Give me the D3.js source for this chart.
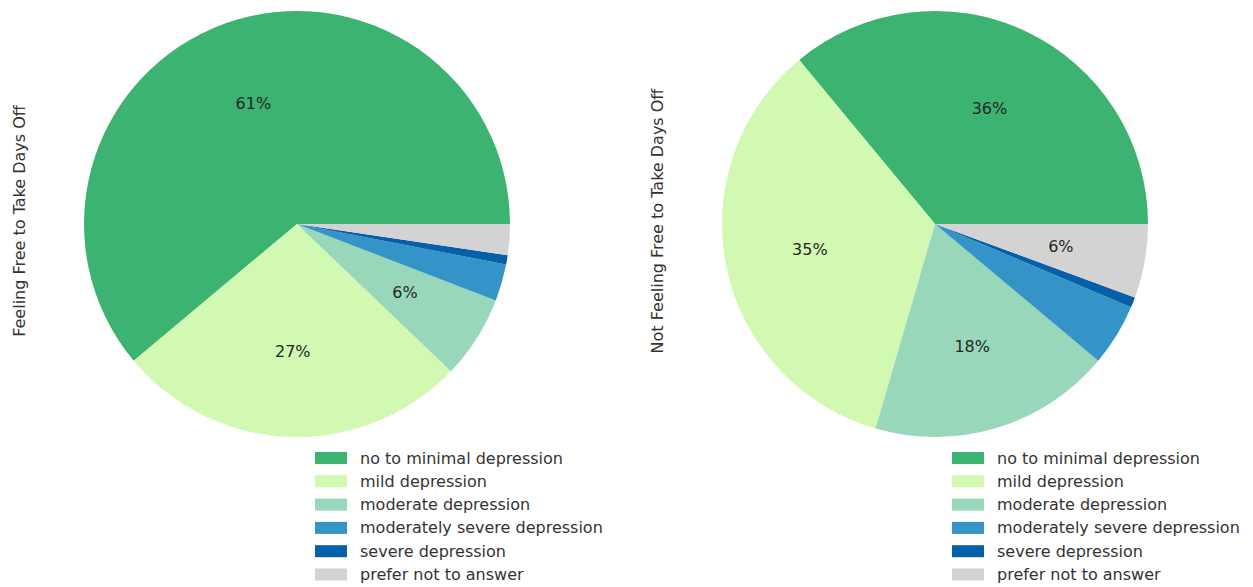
<!DOCTYPE html>
<html><head><meta charset="utf-8">
<script src="https://cdn.jsdelivr.net/npm/d3@7"></script>
<style>body{margin:0;background:#fff}svg{display:block}</style>
</head><body>
<script>
const categories = ["no to minimal depression","mild depression","moderate depression","moderately severe depression","severe depression","prefer not to answer"];
const colors = ["#3cb371","#d1f9b1","#98d7b9","#3594c7","#0660a9","#d3d3d3"];
const freeValues = [61.1, 26.75, 6.3, 2.8, 0.7, 2.35];
const notFreeValues = [36.0, 34.5, 18.4, 4.7, 0.8, 5.6];
const titles = ["Feeling Free to Take Days Off","Not Feeling Free to Take Days Off"];

const W=1253,H=587;
const svg=d3.select("body").append("svg").attr("width",W).attr("height",H);
const font="DejaVu Sans";
const panels=[{cx:297,cy:224,r:213,lx:19,legX:315,vals:freeValues,title:titles[0]},
              {cx:935,cy:224,r:213,lx:657,legX:952,vals:notFreeValues,title:titles[1]}];

panels.forEach(p=>{
  const g=svg.append("g").attr("transform",`translate(${p.cx},${p.cy})`);
  const total=d3.sum(p.vals);
  const pie=d3.pie().sort(null).value(d=>d).startAngle(Math.PI/2).endAngle(Math.PI/2-2*Math.PI);
  const arcs=pie(p.vals);
  const arc=d3.arc().innerRadius(0).outerRadius(p.r);
  g.selectAll("path").data(arcs).enter().append("path")
    .attr("d",arc).attr("fill",(d,i)=>colors[i]);
  const lab=d3.arc().innerRadius(p.r*0.6).outerRadius(p.r*0.6);
  g.selectAll("text.pct").data(arcs.filter(d=>d.data/total>=0.05)).enter().append("text")
    .attr("class","pct")
    .attr("transform",d=>`translate(${lab.centroid(d)})`)
    .attr("text-anchor","middle").attr("dominant-baseline","central")
    .attr("font-family",font).attr("font-size",16).attr("fill","#262626")
    .text(d=>Math.round(d.data/total*100)+"%");
  svg.append("text").attr("transform",`translate(${p.lx},${p.cy-3}) rotate(-90)`)
    .attr("text-anchor","middle").attr("dominant-baseline","central")
    .attr("font-family",font).attr("font-size",16).attr("fill","#333")
    .text(p.title);
  const leg=svg.append("g");
  categories.forEach((c,i)=>{
    const y=458+i*23.3;
    leg.append("rect").attr("x",p.legX).attr("y",y-6).attr("width",32).attr("height",12).attr("fill",colors[i]);
    leg.append("text").attr("x",p.legX+45).attr("y",y).attr("dominant-baseline","central")
      .attr("font-family",font).attr("font-size",16).attr("fill","#333").text(c);
  });
});
</script>
</body></html>
